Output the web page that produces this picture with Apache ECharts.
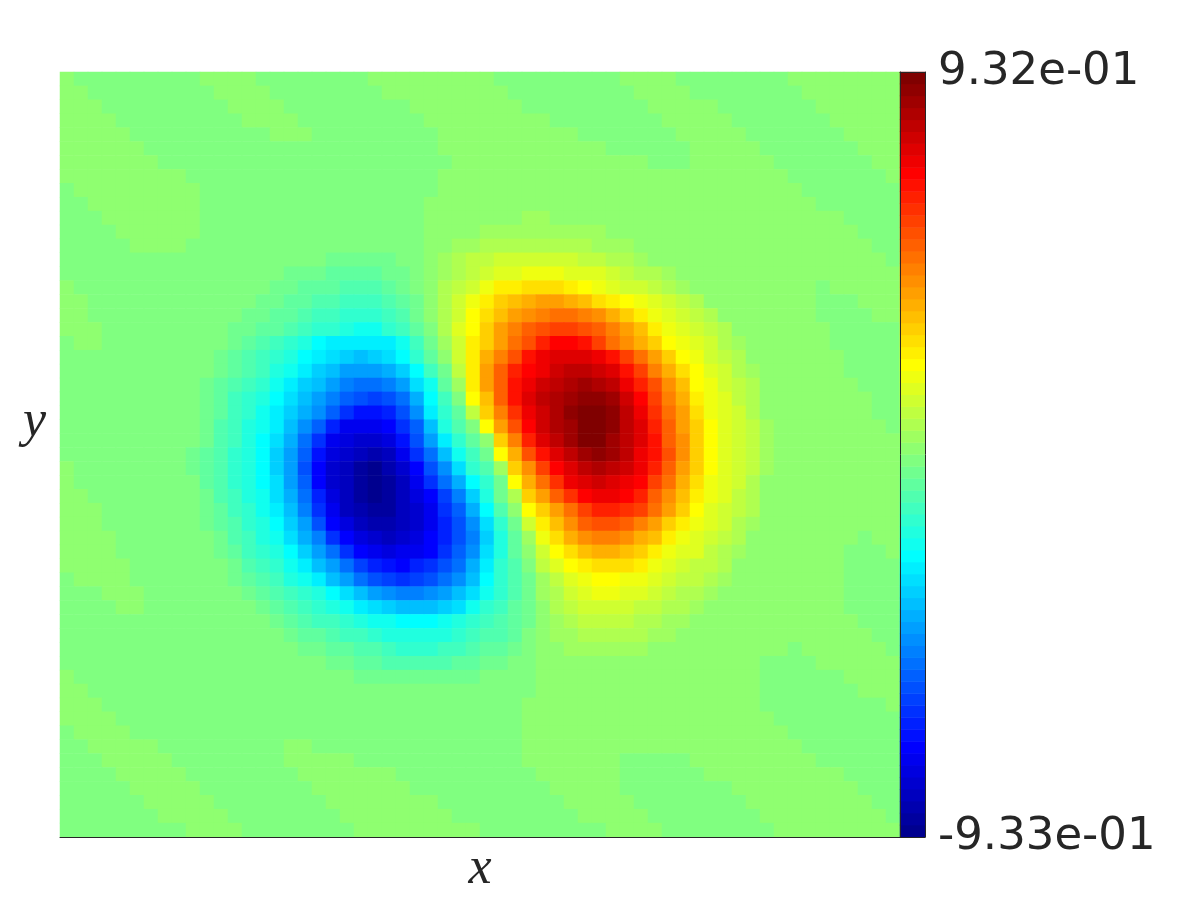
<!DOCTYPE html>
<html>
<head>
<meta charset="utf-8">
<script src="https://cdn.jsdelivr.net/npm/echarts@6/dist/echarts.min.js"></script>
<style>
    html, body { margin: 0; background: #fff; }
    #chart { width: 1200px; height: 900px; }
</style>
</head>
<body>
<div id="chart"></div>
<script>
// colour level (1-64) of each cell, top row first
const fieldLevels = [
[33,32,32,32,32,32,32,32,32,32, 33,33,33,33,32,32,32,32,32,32, 32,32,33,33,33,33,33,33,33,33, 33,32,32,32,32,32,32,32,32,32, 33,33,33,33,32,32,32,32,32,32, 32,32,33,33,33,33,33,33,33,33],
[33,33,32,32,32,32,32,32,32,32, 32,33,33,33,33,32,32,32,32,32, 32,32,32,33,33,33,33,33,33,33, 33,33,32,32,32,32,32,32,32,32, 32,33,33,33,33,32,32,32,32,32, 32,32,32,33,33,33,33,33,33,33],
[33,33,33,32,32,32,32,32,32,32, 32,32,33,33,33,33,32,32,32,32, 32,32,32,32,32,33,33,33,33,33, 33,33,33,32,32,32,32,32,32,32, 32,32,33,33,33,33,33,32,32,32, 32,32,32,32,33,33,33,33,33,33],
[33,33,33,33,32,32,32,32,32,32, 32,32,32,33,33,33,33,32,32,32, 32,32,32,32,32,32,33,33,33,33, 33,33,33,33,33,32,32,32,32,32, 32,32,32,33,33,33,33,33,32,32, 32,32,32,32,32,33,33,33,33,33],
[33,33,33,33,33,32,32,32,32,32, 32,32,32,32,32,33,33,33,32,32, 32,32,32,32,32,32,32,33,33,33, 33,33,33,33,33,33,33,32,32,32, 32,32,32,32,33,33,33,33,33,32, 32,32,32,32,32,32,33,33,33,33],
[33,33,33,33,33,33,32,32,32,32, 32,32,32,32,32,32,32,32,32,32, 32,32,32,32,32,32,32,33,33,33, 33,33,33,33,33,33,33,33,33,32, 32,32,32,32,32,33,33,33,33,33, 32,32,32,32,32,32,32,33,33,33],
[33,33,33,33,33,33,33,32,32,32, 32,32,32,32,32,32,32,32,32,32, 32,32,32,32,32,32,32,32,33,33, 33,33,33,33,33,33,33,33,33,33, 33,33,32,32,32,33,33,33,33,33, 33,32,32,32,32,32,32,32,33,33],
[33,33,33,33,33,33,33,33,33,32, 32,32,32,32,32,32,32,32,32,32, 32,32,32,32,32,32,32,33,33,33, 33,33,33,33,33,33,33,33,33,33, 33,33,33,33,33,33,33,33,33,33, 33,33,32,32,32,32,32,32,32,33],
[32,33,33,33,33,33,33,33,33,33, 32,32,32,32,32,32,32,32,32,32, 32,32,32,32,32,32,32,33,33,33, 33,33,33,33,33,33,33,33,33,33, 33,33,33,33,33,33,33,33,33,33, 33,33,33,32,32,32,32,32,32,32],
[32,32,33,33,33,33,33,33,33,33, 32,32,32,32,32,32,32,32,32,32, 32,32,32,32,32,32,33,33,33,33, 33,33,33,33,33,33,33,33,33,33, 33,33,33,33,33,33,33,33,33,33, 33,33,33,33,32,32,32,32,32,32],
[32,32,32,33,33,33,33,33,33,33, 32,32,32,32,32,32,32,32,32,32, 32,32,32,32,32,32,33,33,33,33, 33,33,33,34,34,33,33,33,33,33, 33,33,33,33,33,33,33,33,33,33, 33,33,33,33,33,33,32,32,32,32],
[32,32,32,32,33,33,33,33,33,33, 32,32,32,32,32,32,32,32,32,32, 32,32,32,32,32,32,33,33,33,33, 34,34,34,34,34,34,34,34,34,33, 33,33,33,33,33,33,33,33,33,33, 33,33,33,33,33,33,33,32,32,32],
[32,32,32,32,32,33,33,33,33,32, 32,32,32,32,32,32,32,32,32,32, 32,32,32,32,32,32,33,33,34,34, 35,35,35,35,35,35,35,35,34,34, 34,33,33,33,33,33,33,33,33,33, 33,33,33,33,33,33,33,33,32,32],
[32,32,32,32,32,32,32,32,32,32, 32,32,32,32,32,32,32,32,32,31, 31,31,31,31,32,32,33,34,35,36, 36,37,37,37,37,37,37,36,36,35, 35,34,33,33,33,33,33,33,33,33, 33,33,33,33,33,33,33,33,33,32],
[32,32,32,32,32,32,32,32,32,32, 32,32,32,32,32,32,31,31,31,30, 30,30,30,31,31,32,33,34,35,36, 37,38,38,39,39,39,38,38,38,37, 36,35,35,34,33,33,33,33,33,33, 33,33,33,33,33,33,33,33,33,33],
[33,32,32,32,32,32,32,32,32,32, 32,32,32,32,32,31,31,30,30,30, 29,29,29,30,31,32,33,35,36,37, 39,41,41,42,42,42,41,40,39,38, 37,37,36,35,34,33,33,33,33,33, 33,33,33,33,32,33,33,33,33,33],
[33,33,32,32,32,32,32,32,32,32, 32,32,32,32,31,31,30,30,29,29, 28,28,28,29,30,31,33,35,37,39, 41,43,44,45,46,46,45,44,42,41, 40,39,38,37,36,35,33,33,33,33, 33,33,33,33,32,32,32,33,33,33],
[33,33,32,32,32,32,32,32,32,32, 32,32,32,31,31,30,30,29,28,28, 27,27,27,28,29,31,33,35,37,40, 42,44,46,47,48,49,49,48,47,45, 43,41,39,38,37,36,35,33,33,33, 33,33,33,33,32,32,32,32,33,33],
[33,33,33,32,32,32,32,32,32,32, 32,32,31,31,30,30,29,28,27,27, 26,25,25,27,28,30,32,35,38,40, 43,46,48,50,51,52,52,51,50,48, 46,44,41,39,38,37,36,35,33,33, 33,33,33,33,33,32,32,32,32,32],
[32,33,33,32,32,32,32,32,32,32, 32,32,31,30,29,28,27,26,24,23, 23,23,23,23,25,28,31,34,37,41, 43,46,49,51,54,56,56,55,52,49, 47,45,43,40,39,38,37,35,34,33, 33,33,33,33,33,32,32,32,32,32],
[32,32,32,32,32,32,32,32,32,32, 32,31,30,29,28,27,26,24,23,22, 21,20,21,22,24,27,30,33,37,41, 45,48,51,55,57,58,58,58,57,55, 52,49,46,43,40,39,37,36,35,33, 33,33,33,33,33,33,32,32,32,32],
[32,32,32,32,32,32,32,32,32,32, 32,31,30,29,28,26,25,23,21,20, 18,18,18,19,21,24,28,31,36,41, 46,50,54,56,57,59,60,60,59,58, 55,52,48,45,42,40,38,37,35,34, 33,33,33,33,33,33,32,32,32,32],
[32,32,32,32,32,32,32,32,32,32, 31,30,29,28,27,25,23,21,20,18, 16,15,15,16,18,22,25,30,34,41, 46,50,55,57,59,60,61,62,61,60, 57,54,51,47,44,40,39,37,36,35, 33,33,33,33,33,33,33,32,32,32],
[32,32,32,32,32,32,32,32,32,32, 31,30,28,27,26,24,22,20,18,16, 14,13,12,13,15,19,24,28,32,40, 44,50,55,58,60,61,62,63,63,62, 59,56,52,48,45,41,39,38,36,35, 33,33,33,33,33,33,33,33,32,32],
[32,32,32,32,32,32,32,32,32,32, 31,30,28,27,25,23,21,19,17,14, 11,9,9,10,13,17,23,27,30,36, 43,48,53,57,59,61,63,64,64,63, 60,57,53,49,46,42,39,38,37,35, 33,33,33,33,33,33,33,33,32,32],
[32,32,32,32,32,32,32,32,32,32, 31,29,28,26,25,23,20,17,14,10, 7,7,7,8,11,14,20,26,29,32, 40,46,51,56,59,61,62,64,64,63, 60,58,54,50,46,43,40,38,37,36, 34,33,33,33,33,33,33,33,33,32],
[32,32,32,32,32,32,32,32,32,32, 31,29,28,26,24,22,19,15,11,7, 6,5,5,6,9,13,18,23,27,30, 33,43,48,54,58,60,62,64,64,62, 60,58,55,50,47,43,40,38,37,36, 34,33,33,33,33,33,33,33,33,33],
[32,32,32,32,32,32,32,32,32,31, 30,29,27,26,24,21,18,14,9,6, 5,4,3,4,7,11,15,20,25,28, 31,40,45,51,55,58,60,62,63,62, 60,57,55,51,47,43,40,38,37,36, 34,33,33,33,33,33,33,33,33,33],
[33,32,32,32,32,32,32,32,32,31, 30,29,27,26,24,21,18,13,8,5, 4,2,1,3,5,8,13,17,22,27, 29,34,43,47,52,56,58,60,61,60, 59,57,54,50,46,43,40,38,37,36, 34,33,33,33,33,33,33,33,33,33],
[33,32,32,32,32,32,32,32,32,32, 30,29,27,26,24,22,18,14,8,5, 4,2,1,2,4,7,11,15,19,24, 27,31,40,45,49,53,57,58,59,58, 57,56,52,49,45,42,39,38,37,35, 33,33,33,33,33,33,33,33,33,33],
[33,33,32,32,32,32,32,32,32,32, 31,29,28,26,25,22,19,15,10,6, 4,2,1,2,4,6,8,12,16,21, 26,31,35,43,46,50,53,56,57,57, 56,54,50,47,44,41,39,38,36,35, 33,33,33,33,33,33,33,33,33,33],
[33,33,33,32,32,32,32,32,32,32, 31,30,28,27,25,23,20,16,11,7, 4,3,2,2,4,5,7,11,14,19, 24,29,33,40,43,46,49,52,54,54, 53,52,49,46,43,40,38,37,36,35, 33,33,33,33,33,33,33,33,33,33],
[33,33,33,32,32,32,32,32,32,32, 31,30,29,27,26,24,21,18,13,8, 6,4,3,3,4,5,7,10,13,17, 22,27,31,37,41,44,47,50,51,51, 50,48,46,43,41,39,38,37,35,34, 33,33,33,33,33,33,33,33,33,33],
[33,33,33,33,32,32,32,32,32,32, 32,31,29,28,26,25,22,19,16,11, 8,6,5,4,5,6,8,10,13,16, 21,26,30,34,39,42,45,47,48,48, 47,45,44,41,39,38,37,36,35,33, 33,33,33,33,33,33,33,32,33,33],
[33,33,33,33,32,32,32,32,32,32, 32,31,30,28,27,26,24,21,18,15, 11,8,7,6,7,7,8,11,14,17, 22,26,30,33,37,40,42,44,45,45, 44,43,41,39,38,38,36,35,34,33, 33,33,33,33,33,33,32,32,32,33],
[33,33,33,33,33,32,32,32,32,32, 32,32,31,29,28,27,25,23,20,18, 15,12,10,9,8,10,11,13,15,19, 23,27,29,32,36,38,40,41,42,42, 42,41,39,38,37,36,36,35,33,33, 33,33,33,33,33,33,32,32,32,32],
[32,33,33,33,33,32,32,32,32,32, 32,32,31,30,29,28,26,25,23,20, 18,15,13,12,11,12,13,15,17,20, 24,27,29,31,34,36,38,39,40,40, 39,39,38,37,36,36,35,34,33,33, 33,33,33,33,33,33,32,32,32,32],
[32,32,32,33,33,33,32,32,32,32, 32,32,32,31,30,29,28,27,26,24, 22,20,18,17,16,16,17,18,20,22, 25,27,29,31,34,35,37,38,39,39, 38,38,37,36,35,35,34,33,33,33, 33,33,33,33,33,33,32,32,32,32],
[32,32,32,32,33,33,32,32,32,32, 32,32,32,32,31,30,29,28,27,26, 25,23,22,21,20,20,20,21,22,25, 27,28,30,31,33,35,36,37,37,37, 37,36,36,35,35,34,33,33,33,33, 33,33,33,33,33,33,32,32,32,32],
[32,32,32,32,32,32,32,32,32,32, 32,32,32,32,32,31,30,29,28,28, 27,26,25,25,24,24,24,25,26,27, 28,29,30,31,33,34,35,36,36,36, 36,35,35,34,34,33,33,33,33,33, 33,33,33,33,33,33,33,32,32,32],
[32,32,32,32,32,32,32,32,32,32, 32,32,32,32,32,32,31,30,30,29, 28,28,27,26,26,26,26,26,27,28, 29,29,30,32,33,34,34,35,35,35, 35,35,34,34,33,33,33,33,33,33, 33,33,33,33,33,33,33,33,32,32],
[32,32,32,32,32,32,32,32,32,32, 32,32,32,32,32,32,32,31,31,30, 30,29,29,28,27,27,27,28,28,29, 30,30,31,32,33,33,34,34,34,34, 34,34,33,33,33,33,33,33,33,33, 33,33,32,33,33,33,33,33,33,32],
[32,32,32,32,32,32,32,32,32,32, 32,32,32,32,32,32,32,32,32,31, 31,30,30,29,29,29,29,29,30,30, 31,31,32,32,33,33,33,33,33,33, 33,33,33,33,33,33,33,33,33,33, 32,32,32,32,33,33,33,33,33,33],
[33,32,32,32,32,32,32,32,32,32, 32,32,32,32,32,32,32,32,32,32, 32,31,31,31,31,31,31,31,31,31, 32,32,32,32,33,33,33,33,33,33, 33,33,33,33,33,33,33,33,33,33, 32,32,32,32,32,32,33,33,33,33],
[33,33,32,32,32,32,32,32,32,32, 32,32,32,32,32,32,32,32,32,32, 32,32,32,32,32,32,32,32,32,32, 32,32,32,32,33,33,33,33,33,33, 33,33,33,33,33,33,33,33,33,33, 32,32,32,32,32,32,32,33,33,33],
[33,33,33,32,32,32,32,32,32,32, 32,32,32,32,32,32,32,32,32,32, 32,32,32,32,32,32,32,32,32,32, 32,32,32,33,33,33,33,33,33,33, 33,33,33,33,33,33,33,33,33,33, 32,32,32,32,32,32,32,32,32,33],
[33,33,33,33,32,32,32,32,32,32, 32,32,32,32,32,32,32,32,32,32, 32,32,32,32,32,32,32,32,32,32, 32,32,32,33,33,33,33,33,33,33, 33,33,33,33,33,33,33,33,33,33, 33,32,32,32,32,32,32,32,32,32],
[32,33,33,33,33,32,32,32,32,32, 32,32,32,32,32,32,32,32,32,32, 32,32,32,32,32,32,32,32,32,32, 32,32,32,33,33,33,33,33,33,33, 33,33,33,33,33,33,33,33,33,33, 33,33,32,32,32,32,32,32,32,32],
[32,32,33,33,33,33,33,32,32,32, 32,32,32,32,32,32,33,33,32,32, 32,32,32,32,32,32,32,32,32,32, 32,32,32,33,33,33,33,33,33,33, 33,33,33,33,33,33,33,33,33,33, 33,33,33,32,32,32,32,32,32,32],
[32,32,32,33,33,33,33,33,32,32, 32,32,32,32,32,32,33,33,33,33, 33,32,32,32,32,32,32,32,32,32, 32,32,32,33,33,33,33,33,33,33, 32,32,32,32,32,33,33,33,33,33, 33,33,33,33,32,32,32,32,32,32],
[32,32,32,32,33,33,33,33,33,32, 32,32,32,32,32,32,32,33,33,33, 33,33,33,33,32,32,32,32,32,32, 32,32,32,32,33,33,33,33,33,33, 32,32,32,32,32,32,33,33,33,33, 33,33,33,33,33,33,32,32,32,32],
[32,32,32,32,32,33,33,33,33,33, 32,32,32,32,32,32,32,32,33,33, 33,33,33,33,33,32,32,32,32,32, 32,32,32,32,32,33,33,33,33,33, 32,32,32,32,32,32,32,32,33,33, 33,33,33,33,33,33,33,32,32,32],
[32,32,32,32,32,32,33,33,33,33, 33,32,32,32,32,32,32,32,32,33, 33,33,33,33,33,33,33,32,32,32, 32,32,32,32,32,32,33,33,33,33, 33,32,32,32,32,32,32,32,32,33, 33,33,33,33,33,33,33,33,32,32],
[32,32,32,32,32,32,32,33,33,33, 33,33,32,32,32,32,32,32,32,32, 33,33,33,33,33,33,33,33,32,32, 32,32,32,32,32,32,32,33,33,33, 33,33,32,32,32,32,32,32,32,32, 33,33,33,33,33,33,33,33,33,32],
[32,32,32,32,32,32,32,32,32,33, 33,33,33,32,32,32,32,32,32,32, 32,33,33,33,33,33,33,33,33,33, 32,32,32,32,32,32,32,32,32,33, 33,33,33,32,32,32,32,32,32,32, 32,33,33,33,33,33,33,33,33,33]
];
const colorbarLevels = [1,2,3,4,5,6,7,8,9,10,11,12,13,14,15,16,17,18,19,20,21,22,23,24,25,26,27,28,29,30,31,32,33,34,35,36,37,38,39,40,41,42,43,44,45,46,47,48,49,50,51,52,53,54,55,56,57,58,59,60,61,62,63,64];
const colorbarRange = [-0.933, 0.932];
const colorbarLabels = ['-9.33e-01', '9.32e-01'];

// jet colormap, one colour per level
function jetColor(i) {
    let clamp = v => Math.round(Math.max(0, Math.min(1, v)) * 255);
    let r = clamp(Math.min((i - 24) / 16, (72 - i) / 16));
    let g = clamp(Math.min((i - 8) / 16, (56 - i) / 16));
    let b = clamp(Math.min((i + 8) / 16, (40 - i) / 16));
    return 'rgb(' + r + ',' + g + ',' + b + ')';
}

let fieldData = [];
fieldLevels.forEach((row, r) => row.forEach((level, c) => fieldData.push([c, r, level])));
let barData = colorbarLevels.map((level, i) => [0, i, level]);

const textColor = '#262626';
const mathLabel = {
    fontFamily: 'Liberation Serif',
    fontStyle: 'italic',
    fontSize: 52,
    color: textColor
};
const barEdge = { onZero: false, lineStyle: { color: textColor, width: 1 } };

let myChart = echarts.init(document.getElementById('chart'), null, { renderer: 'canvas' });
myChart.setOption({
    animation: false,
    backgroundColor: '#fff',
    grid: [
        { left: 60, top: 72, width: 840, height: 765, outerBoundsMode: 'none' },
        { left: 900, top: 72, width: 25, height: 765, outerBoundsMode: 'none' }
    ],
    // y label sits above the middle of the plot, an axis name cannot go there
    graphic: [{
        type: 'text', left: 23, top: 396,
        style: { text: 'y', font: 'italic 52px "Liberation Serif"', fill: textColor }
    }],
    xAxis: [
        {
            type: 'category', gridIndex: 0, z: 5, data: fieldLevels[0].map((v, i) => i),
            name: 'x', nameLocation: 'middle', nameGap: 6, nameTextStyle: mathLabel,
            axisLabel: { show: false }, axisTick: { show: false },
            axisLine: { lineStyle: { color: textColor, width: 1 } }
        },
        {
            type: 'category', gridIndex: 1, z: 5, data: ['bar'], position: 'bottom',
            axisLabel: { show: false }, axisTick: { show: false }, axisLine: barEdge
        },
        {
            type: 'category', gridIndex: 1, z: 5, data: ['bar'], position: 'top',
            axisLabel: { show: false }, axisTick: { show: false }, axisLine: barEdge
        }
    ],
    yAxis: [
        {
            type: 'category', gridIndex: 0, inverse: true, data: fieldLevels.map((v, i) => i),
            axisLabel: { show: false }, axisTick: { show: false }, axisLine: { show: false }
        },
        {
            type: 'category', gridIndex: 1, z: 5, data: colorbarLevels, position: 'left',
            axisLabel: { show: false }, axisTick: { show: false }, axisLine: barEdge
        },
        {
            type: 'value', gridIndex: 1, z: 5, position: 'right',
            min: colorbarRange[0], max: colorbarRange[1], interval: colorbarRange[1] - colorbarRange[0],
            axisLabel: {
                fontFamily: 'DejaVu Sans', fontSize: 45, color: textColor, margin: 13, padding: [15, 0, 0, 0],
                formatter: v => v < 0 ? colorbarLabels[0] : colorbarLabels[1]
            },
            axisTick: { show: false }, splitLine: { show: false },
            axisLine: { show: true, onZero: false, lineStyle: { color: textColor, width: 1 } }
        }
    ],
    visualMap: {
        type: 'piecewise', show: false, dimension: 2, seriesIndex: [0, 1],
        pieces: colorbarLevels.map(level => ({ value: level, color: jetColor(level) }))
    },
    series: [
        {
            type: 'heatmap', xAxisIndex: 0, yAxisIndex: 0, data: fieldData,
            silent: true, progressive: 0
        },
        {
            type: 'heatmap', xAxisIndex: 1, yAxisIndex: 1, data: barData,
            silent: true, progressive: 0
        }
    ]
});
</script>
</body>
</html>
